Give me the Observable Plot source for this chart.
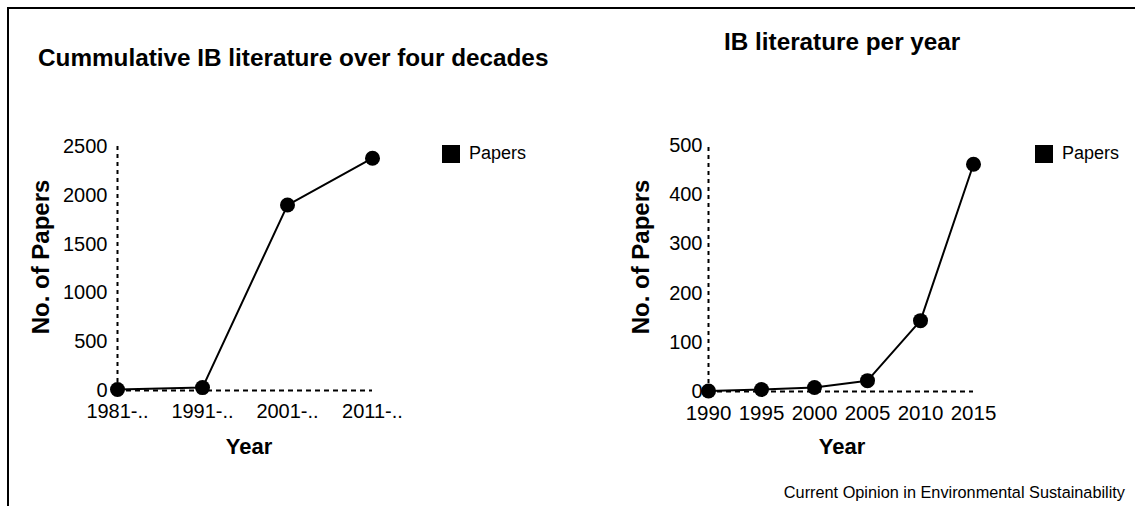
<!DOCTYPE html>
<html>
<head>
<meta charset="utf-8">
<script src="https://cdn.jsdelivr.net/npm/d3@7"></script>
<script src="https://cdn.jsdelivr.net/npm/@observablehq/plot@0.6"></script>
<style>
  html, body { margin: 0; padding: 0; background: #fff; }
  #root { position: relative; width: 1135px; height: 506px; overflow: hidden; font-family: "Liberation Sans", Arial, Helvetica, sans-serif; color: #000; }
  .abs { position: absolute; line-height: 1; white-space: nowrap; }
  .title { font-size: 24.3px; font-weight: bold; }
  .axlab { font-size: 22px; font-weight: bold; text-align: center; width: 100px; }
  .ylab { font-size: 24px; font-weight: bold; transform: translate(-50%, -50%) rotate(-90deg); }
  .caption { font-size: 16.3px; text-align: right; width: 500px; }
  .border { position: absolute; left: 7px; top: 7px; width: 1200px; height: 600px; border-top: 2px solid #000; border-left: 2px solid #000; }
</style>
</head>
<body>
<div id="root">
  <div class="border"></div>
</div>
<script>
// ---- data ----
const decades = ["1981-..", "1991-..", "2001-..", "2011-.."];
const cumulativePapers = [10, 30, 1900, 2380];
const decadeTicks = [0, 500, 1000, 1500, 2000, 2500];

const years = [1990, 1995, 2000, 2005, 2010, 2015];
const papersPerYear = [1, 4, 8, 22, 144, 462];
const yearTicks = [0, 100, 200, 300, 400, 500];

const leftTitle = "Cummulative IB literature over four decades";
const rightTitle = "IB literature per year";
const yLabel = "No. of Papers";
const xLabel = "Year";
const seriesName = "Papers";
const caption = "Current Opinion in Environmental Sustainability";

const FONT = "Liberation Sans, Arial, Helvetica, sans-serif";
const root = document.getElementById("root");

function place(el, left, top) {
  el.style.position = "absolute";
  el.style.left = left + "px";
  el.style.top = top + "px";
  root.appendChild(el);
  return el;
}
function textDiv(cls, txt, left, top) {
  const d = document.createElement("div");
  d.className = "abs " + cls;
  d.textContent = txt;
  return place(d, left, top);
}

// ---- left chart ----
const leftData = decades.map((d, i) => ({x: d, y: cumulativePapers[i]}));
const leftPlot = Plot.plot({
  width: 600, height: 506,
  marginLeft: 117, marginRight: 228, marginTop: 146, marginBottom: 116,
  style: {fontFamily: FONT, color: "#000", background: "transparent", overflow: "visible"},
  x: {type: "point", domain: decades, padding: 0, align: 0},
  y: {domain: [0, 2500]},
  marks: [
    Plot.ruleX([{x: decades[0], y1: 0, y2: decadeTicks[decadeTicks.length - 1]}], {x: "x", y1: "y1", y2: "y2", stroke: "#000", strokeWidth: 2, strokeDasharray: "4,4"}),
    Plot.ruleY([{y: 0, x1: decades[0], x2: decades[decades.length - 1]}], {y: "y", x1: "x1", x2: "x2", stroke: "#000", strokeWidth: 2, strokeDasharray: "5,4"}),
    Plot.axisX({tickSize: 0, tickPadding: 13, fontSize: 20, label: null}),
    Plot.axisY({ticks: decadeTicks, tickSize: 0, tickPadding: 10, fontSize: 20, label: null, tickFormat: d => String(d)}),
    Plot.line(leftData, {x: "x", y: "y", stroke: "#000", strokeWidth: 2}),
    Plot.dot(leftData, {x: "x", y: "y", r: 7.5, fill: "#000", stroke: "none"})
  ]
});
place(leftPlot, 0, 0);

// ---- right chart ----
const rightData = years.map((d, i) => ({x: d, y: papersPerYear[i]}));
const rightPlot = Plot.plot({
  width: 535, height: 506,
  marginLeft: 108, marginRight: 162, marginTop: 145, marginBottom: 115,
  style: {fontFamily: FONT, color: "#000", background: "transparent", overflow: "visible"},
  x: {type: "linear", domain: [years[0], years[years.length - 1]]},
  y: {domain: [0, 500]},
  marks: [
    Plot.ruleX([{x: years[0], y1: 0, y2: yearTicks[yearTicks.length - 1]}], {x: "x", y1: "y1", y2: "y2", stroke: "#000", strokeWidth: 2, strokeDasharray: "4,4"}),
    Plot.ruleY([{y: 0, x1: years[0], x2: years[years.length - 1]}], {y: "y", x1: "x1", x2: "x2", stroke: "#000", strokeWidth: 2, strokeDasharray: "5,4"}),
    Plot.axisX({ticks: years, tickSize: 0, tickPadding: 14, fontSize: 20.5, label: null, tickFormat: d => String(d)}),
    Plot.axisY({ticks: yearTicks, tickSize: 0, tickPadding: 6, fontSize: 20, label: null, tickFormat: d => String(d)}),
    Plot.line(rightData, {x: "x", y: "y", stroke: "#000", strokeWidth: 2}),
    Plot.dot(rightData, {x: "x", y: "y", r: 7.5, fill: "#000", stroke: "none"})
  ]
});
place(rightPlot, 600, 0);

// ---- titles, axis labels ----
textDiv("title", leftTitle, 38, 46);
textDiv("title", rightTitle, 724, 30);
textDiv("axlab", xLabel, 199, 436);
textDiv("axlab", xLabel, 792, 436);
textDiv("ylab", yLabel, 41, 257);
textDiv("ylab", yLabel, 641, 257);

// ---- legends ----
function legend() {
  return Plot.legend({
    color: {type: "ordinal", domain: [seriesName], range: ["#000"]},
    swatchSize: 18,
    style: {fontSize: "18px", fontFamily: FONT, color: "#000", margin: "0", background: "transparent"}
  });
}
place(legend(), 442, 137);
place(legend(), 1035, 137);

// ---- caption ----
textDiv("caption", caption, 625, 484);
</script>
</body>
</html>
